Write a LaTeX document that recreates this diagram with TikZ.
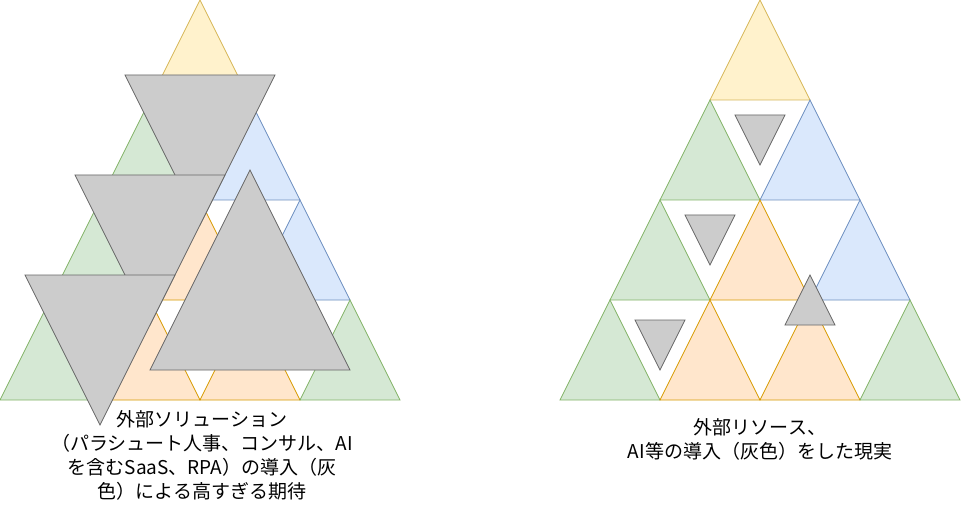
\documentclass[tikz,border=0pt]{standalone}
\usepackage{fontspec}
\setmainfont{Noto Sans CJK JP}
\definecolor{gfill}{HTML}{D5E8D4}\definecolor{gdraw}{HTML}{82B366}
\definecolor{bfill}{HTML}{DAE8FC}\definecolor{bdraw}{HTML}{6C8EBF}
\definecolor{ofill}{HTML}{FFE6CC}\definecolor{odraw}{HTML}{D79B00}
\definecolor{yfill}{HTML}{FFF2CC}\definecolor{ydraw}{HTML}{D6B656}
\definecolor{kfill}{HTML}{CCCCCC}\definecolor{kdraw}{HTML}{666666}
\begin{document}
\begin{tikzpicture}[x=1pt,y=-1pt,
  tri/.style={line width=0.8pt,line join=miter},
  gtri/.style={tri,fill=gfill,draw=gdraw},
  btri/.style={tri,fill=bfill,draw=bdraw},
  otri/.style={tri,fill=ofill,draw=odraw},
  ytri/.style={tri,fill=yfill,draw=ydraw},
  ktri/.style={tri,fill=kfill,draw=kdraw},
  lbl/.style={align=center,font=\fontsize{19}{24}\selectfont,inner sep=0pt}]
\useasboundingbox (0,0) rectangle (961,505);
\fill[white] (0,0) rectangle (961,505);
% ---------- left pyramid ----------
\begin{scope}
\draw[ytri] (200,0)--(250,100)--(150,100)--cycle;
\draw[gtri] (150,100)--(200,200)--(100,200)--cycle;
\draw[btri] (250,100)--(300,200)--(200,200)--cycle;
\draw[gtri] (100,200)--(150,300)--(50,300)--cycle;
\draw[otri] (200,200)--(250,300)--(150,300)--cycle;
\draw[btri] (300,200)--(350,300)--(250,300)--cycle;
\draw[gtri] (50,300)--(100,400)--(0,400)--cycle;
\draw[otri] (150,300)--(200,400)--(100,400)--cycle;
\draw[otri] (250,300)--(300,400)--(200,400)--cycle;
\draw[gtri] (350,300)--(400,400)--(300,400)--cycle;
\draw[ktri] (125,75)--(275,75)--(200,225)--cycle;
\draw[ktri] (75,175)--(225,175)--(150,325)--cycle;
\draw[ktri] (25,275)--(175,275)--(100,425)--cycle;
\draw[ktri] (250,170)--(350,370)--(150,370)--cycle;
\end{scope}
% ---------- right pyramid ----------
\begin{scope}[xshift=560pt]
\draw[ytri] (200,0)--(250,100)--(150,100)--cycle;
\draw[gtri] (150,100)--(200,200)--(100,200)--cycle;
\draw[btri] (250,100)--(300,200)--(200,200)--cycle;
\draw[gtri] (100,200)--(150,300)--(50,300)--cycle;
\draw[otri] (200,200)--(250,300)--(150,300)--cycle;
\draw[btri] (300,200)--(350,300)--(250,300)--cycle;
\draw[gtri] (50,300)--(100,400)--(0,400)--cycle;
\draw[otri] (150,300)--(200,400)--(100,400)--cycle;
\draw[otri] (250,300)--(300,400)--(200,400)--cycle;
\draw[gtri] (350,300)--(400,400)--(300,400)--cycle;
\draw[ktri] (175,115)--(225,115)--(200,165)--cycle;
\draw[ktri] (125,215)--(175,215)--(150,265)--cycle;
\draw[ktri] (75,320)--(125,320)--(100,370)--cycle;
\draw[ktri] (250,275)--(275,325)--(225,325)--cycle;
\end{scope}
% ---------- labels ----------
\node[lbl] (leftlabel) at (202,455) {外部ソリューション\\（パラシュート人事、コンサル、AI\\を含むSaaS、RPA）の導入（灰\\色）による高すぎる期待};
\node[lbl] (rightlabel) at (760,439) {外部リソース、\\AI等の導入（灰色）をした現実};
\end{tikzpicture}
\end{document}
